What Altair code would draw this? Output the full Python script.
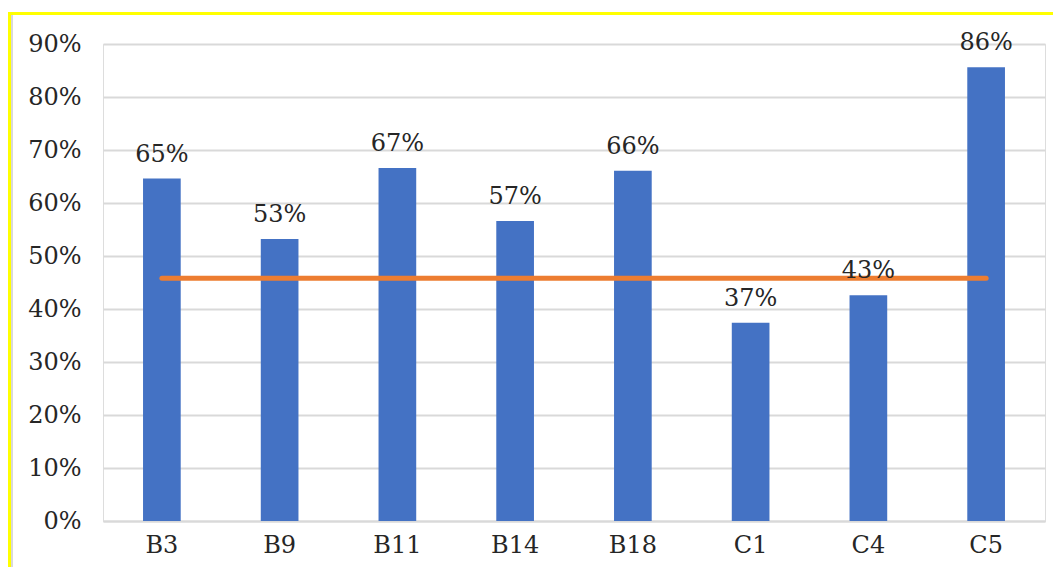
import altair as alt
import pandas as pd

categories = ["B3", "B9", "B11", "B14", "B18", "C1", "C4", "C5"]
values = [0.646, 0.532, 0.666, 0.566, 0.661, 0.374, 0.426, 0.856]
average = [0.458] * len(categories)
y_ticks = [0.0, 0.1, 0.2, 0.3, 0.4, 0.5, 0.6, 0.7, 0.8, 0.9]

df = pd.DataFrame({"cat": categories, "val": values, "avg": average})

W, H = 942, 477
PL, PT, PR, PB = 95, 36, 8, 46
FONT = "DejaVu Serif"
FS = 24
TXT = "#262626"

x_enc = alt.X("cat:N", sort=categories, title=None,
              scale=alt.Scale(paddingInner=0.68, paddingOuter=0.34),
              axis=alt.Axis(labelFont=FONT, labelFontSize=FS, labelColor=TXT,
                            labelAngle=0, labelPadding=12, ticks=False,
                            domainColor="#d9d9d9", domainWidth=2, grid=False))
y_enc = alt.Y("val:Q", title=None,
              scale=alt.Scale(domain=[0, 0.9], nice=False),
              axis=alt.Axis(values=y_ticks, format=".0%", labelFont=FONT,
                            labelFontSize=FS, labelColor=TXT, labelPadding=22,
                            ticks=False, domain=False, gridColor="#d9d9d9",
                            gridWidth=2))

base = alt.Chart(df)
bars = base.mark_bar(color="#4472C4").encode(x=x_enc, y=y_enc)
labels = base.mark_text(font=FONT, fontSize=FS, color=TXT, dy=-24,
                        baseline="middle").encode(
    x=alt.X("cat:N", sort=categories),
    y=alt.Y("val:Q"),
    text=alt.Text("val:Q", format=".0%"))
avg_line = base.mark_line(color="#ED7D31", strokeWidth=5, strokeCap="round").encode(
    x=alt.X("cat:N", sort=categories),
    y=alt.Y("avg:Q"))

border_top = base.mark_rule(color="#FFFF00", strokeWidth=3).encode(
    x=alt.value(-PL), x2=alt.value(W + PR), y=alt.value(-PT + 5.5))
border_left = base.mark_rule(color="#FFFF00", strokeWidth=3).encode(
    x=alt.value(-PL + 1.5), y=alt.value(-PT + 4), y2=alt.value(H + PB))
border_gray = base.mark_rule(color="#d9d9d9", strokeWidth=2).encode(
    x=alt.value(-PL + 4), y=alt.value(-PT + 7), y2=alt.value(H + PB))

chart = alt.layer(bars, avg_line, labels, border_top, border_left, border_gray).properties(
    width=W, height=H,
    autosize=alt.AutoSizeParams(type="none"),
    padding={"left": PL, "top": PT, "right": PR, "bottom": PB},
).configure_view(stroke=None).configure(background="white", font=FONT)

chart.save("out.html", embed_options={"renderer": "svg", "actions": False})
